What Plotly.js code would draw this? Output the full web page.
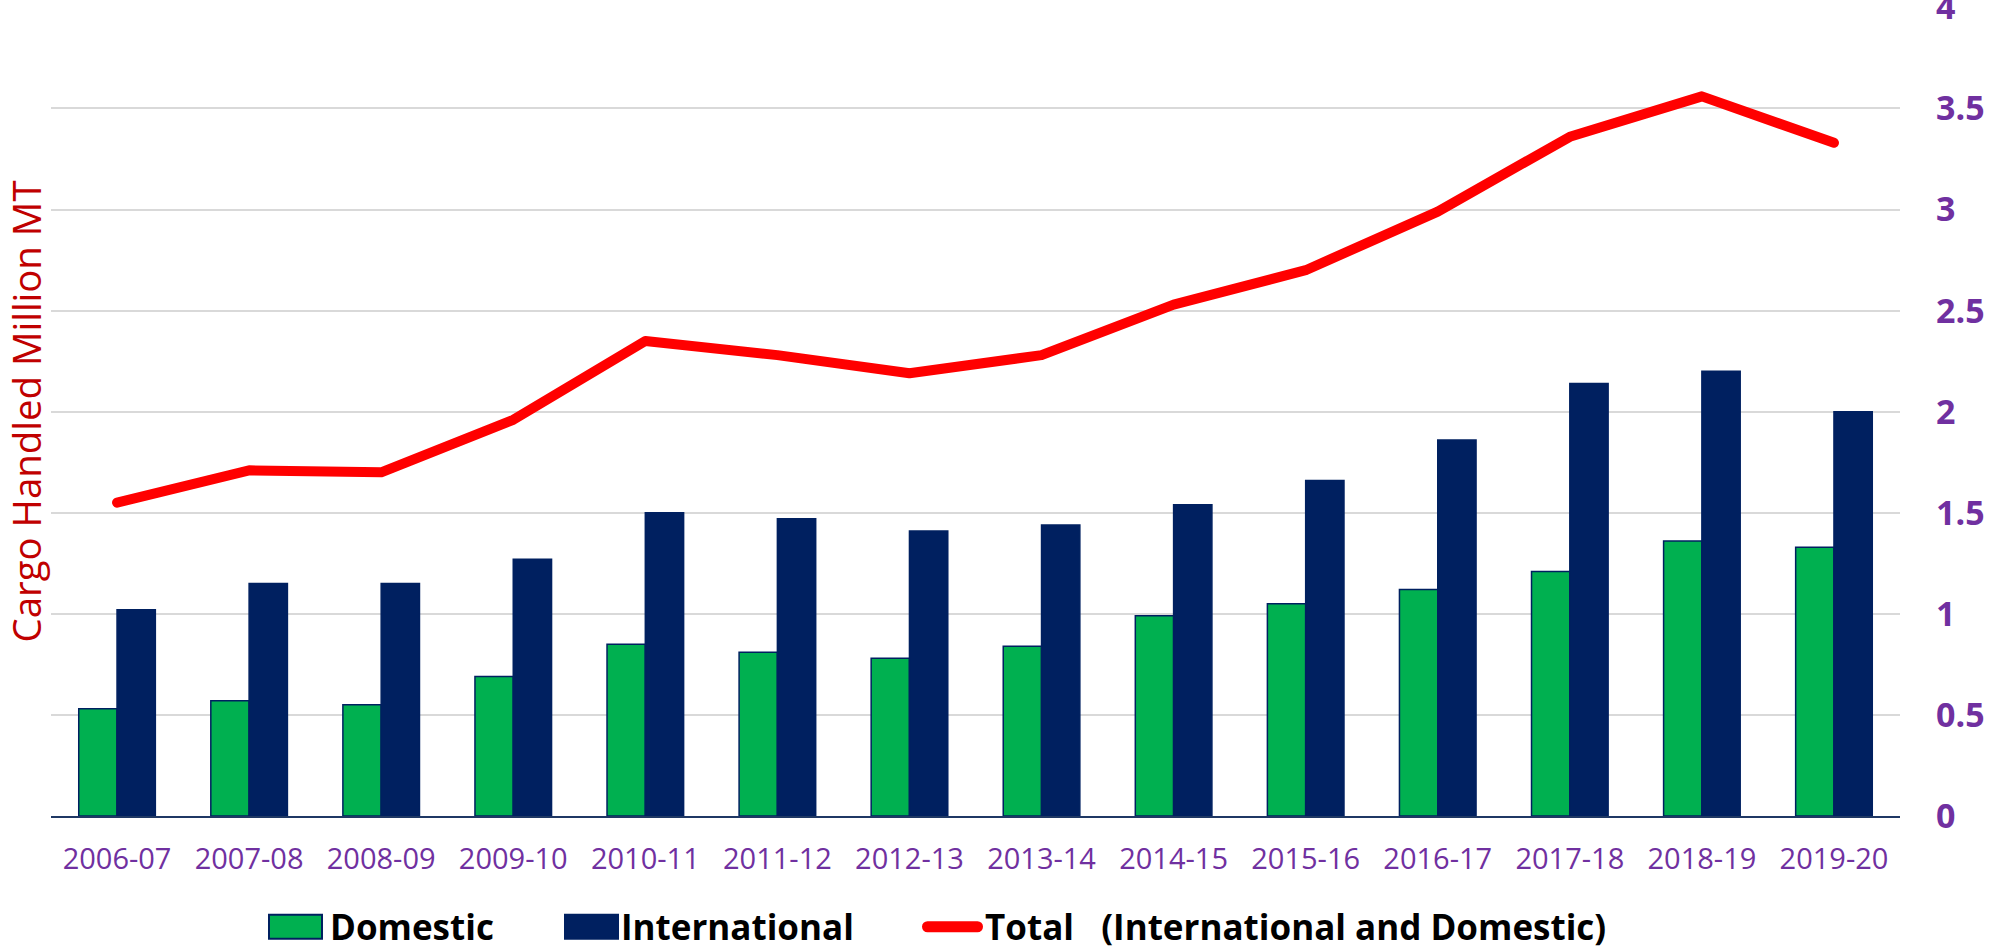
<!DOCTYPE html>
<html>
<head>
<meta charset="utf-8">
<script src="https://cdn.plot.ly/plotly-3.0.1.min.js"></script>
<style>
  html, body { margin: 0; padding: 0; background: #ffffff; }
  #chart { width: 1990px; height: 947px; }
  .scatterlayer .js-line { stroke-linecap: round; stroke-linejoin: round; }
</style>
</head>
<body>
<div id="chart"></div>
<script>
const years = ["2006-07","2007-08","2008-09","2009-10","2010-11","2011-12","2012-13","2013-14","2014-15","2015-16","2016-17","2017-18","2018-19","2019-20"];
const domestic = [0.53, 0.57, 0.55, 0.69, 0.85, 0.81, 0.78, 0.84, 0.99, 1.05, 1.12, 1.21, 1.36, 1.33];
const international = [1.02, 1.15, 1.15, 1.27, 1.50, 1.47, 1.41, 1.44, 1.54, 1.66, 1.86, 2.14, 2.20, 2.00];
const total = [1.55, 1.71, 1.70, 1.96, 2.35, 2.28, 2.19, 2.28, 2.53, 2.70, 2.99, 3.36, 3.56, 3.33];
const yTicks = [0, 0.5, 1, 1.5, 2, 2.5, 3, 3.5, 4];
const seriesNames = ["Domestic", "International", "Total\u00a0\u00a0\u00a0(International and Domestic)"];

const FONT = "'Open Sans', 'Noto Sans', sans-serif";
const GREEN = '#00B050', NAVY = '#002060', RED = '#FF0000', PURPLE = '#7030A0';

const traces = [
  {
    type: 'bar', name: seriesNames[0], x: years, y: domestic, legend: 'legend',
    marker: { color: GREEN, line: { color: NAVY, width: 1.5 } },
    yaxis: 'y', hoverinfo: 'x+y'
  },
  {
    type: 'bar', name: seriesNames[1], x: years, y: international, legend: 'legend2',
    marker: { color: NAVY, line: { color: NAVY, width: 1.5 } },
    yaxis: 'y', hoverinfo: 'x+y'
  },
  {
    type: 'scatter', mode: 'lines', name: seriesNames[2], legend: 'legend3',
    x: years, y: total, yaxis: 'y2',
    line: { color: RED, width: 10 }, hoverinfo: 'x+y'
  }
];

function legendAt(px) {
  return {
    orientation: 'h', xref: 'container', yref: 'container',
    x: px / 1990, xanchor: 'left', y: 1 - 927 / 947, yanchor: 'middle',
    font: { family: FONT, size: 35, weight: 'bold', color: '#000000' },
    itemsizing: 'constant', itemwidth: 55, bgcolor: 'rgba(0,0,0,0)'
  };
}

const layout = {
  width: 1990, height: 947,
  paper_bgcolor: '#ffffff', plot_bgcolor: '#ffffff',
  margin: { l: 51, r: 55, t: 7, b: 131 },
  barmode: 'group', bargap: 0.42, bargroupgap: 0,
  font: { family: FONT, color: '#000000' },
  showlegend: true,
  legend: legendAt(265),
  legend2: legendAt(556),
  legend3: legendAt(920),
  xaxis: {
    type: 'category', domain: [0, 1849 / 1884], showgrid: false, zeroline: false,
    showline: true, linecolor: '#1F3864', linewidth: 2,
    ticks: '', ticklabelstandoff: 16,
    tickfont: { family: FONT, size: 29, color: PURPLE }
  },
  yaxis: {
    range: [0, 4.002], tickvals: yTicks, showticklabels: false, ticks: '',
    showgrid: true, gridcolor: '#D9D9D9', gridwidth: 2, zeroline: false,
    title: { text: 'Cargo Handled Million MT', standoff: 13,
      font: { family: FONT, size: 38.4, color: '#C00000' } }
  },
  yaxis2: {
    overlaying: 'y', side: 'right', anchor: 'free', position: 1,
    range: [0, 4.002], tickvals: yTicks,
    ticktext: yTicks.map(String), showgrid: false, zeroline: false, showline: false,
    ticks: '', ticklabeloverflow: 'allow',
    tickfont: { family: FONT, size: 34, weight: 'bold', color: PURPLE }
  }
};

const gd = document.getElementById('chart');
Plotly.newPlot(gd, traces, layout, { displayModeBar: false, staticPlot: true }).then(() => {
  // enlarge legend swatches to match the reference's wide rectangles
  gd.querySelectorAll('.infolayer path').forEach(p => {
    const d = p.getAttribute('d') || '';
    if (d.indexOf('H-6V-6') >= 0) {
      const fill = (p.style.fill || '').replace(/\s/g, '');
      const cx = fill.indexOf('0,176,80') >= 0 ? 30.5 : 35.5;
      p.setAttribute('transform', 'translate(' + cx + ',0) scale(4.42,2)');
      p.setAttribute('vector-effect', 'non-scaling-stroke');
    }
  });
  gd.querySelectorAll('.infolayer .legendlines path').forEach(p => {
    p.setAttribute('d', 'M7.5,0h50');
    p.style.strokeWidth = '11px';
    p.style.strokeLinecap = 'round';
  });
});
</script>
</body>
</html>
